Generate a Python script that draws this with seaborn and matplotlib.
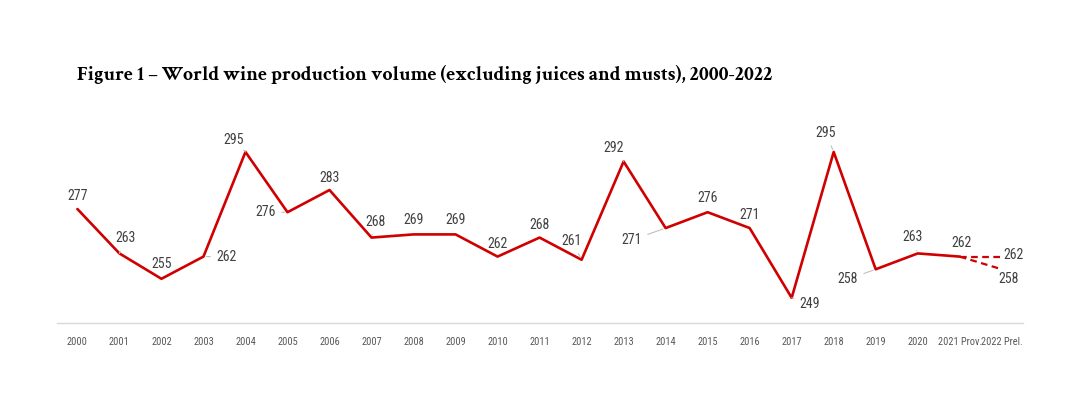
import matplotlib
matplotlib.use('Agg')
import matplotlib.pyplot as plt
import seaborn as sns
import pandas as pd

# ── Veriler ──
YILLAR = [str(y) for y in range(2000, 2021)] + ['2021 Prov.', '2022 Prel.']
URETIM = [277, 263, 255, 262, 295, 276, 283, 268, 269, 269, 262,
          268, 261, 292, 271, 276, 271, 249, 295, 258, 263, 262]
TAHMIN_2022 = [262, 258]   # üst ve alt tahmin

BASLIK = 'Figure 1 – World wine production volume (excluding juices and musts), 2000-2022'

# etiket kaydırmaları (piksel, sağa / aşağı) ve çizgi bağlantısı
ETIKET_KONUM = [
    (0, -13, False), (6, -15, True), (0, -15, False), (23, 0, True),
    (-12, -12, True), (-22, 0, True), (0, -12, False), (4, -16, True),
    (0, -14, False), (0, -14, False), (0, -13, False), (0, -13, False),
    (-10, -19, True), (-10, -13, True), (-34, 12, True), (0, -14, False),
    (0, -13, False), (18, 6, True), (-8, -19, True), (-28, 10, True),
    (-5, -16, True), (2, -14, False),
]
TAHMIN_KONUM = [(12, -2, False), (7, 10, False)]

KIRMIZI = '#D00000'
ETIKET_RENK = '#404040'
YAZI = ['Roboto Condensed', 'DejaVu Sans']
BASLIK_YAZI = ['Crimson Text', 'DejaVu Serif']

sns.set_theme(style='white')
plt.rcParams['font.family'] = YAZI

df = pd.DataFrame({'x': range(len(URETIM)), 'deger': URETIM})
son = len(URETIM) - 1

fig = plt.figure(figsize=(10.8, 3.98), dpi=100)
ax = fig.add_axes([0.053, 0.188, 0.894, 0.47])

sns.lineplot(data=df, x='x', y='deger', color=KIRMIZI, linewidth=1.9, ax=ax)
for t in TAHMIN_2022:
    ax.plot([son, son + 1], [URETIM[son], t], color=KIRMIZI,
            linewidth=1.6, linestyle=(0, (3, 2)))


def etiket(x, y, metin, konum):
    dx, dy, cizgi = konum
    kw = dict(textcoords='offset pixels', xytext=(dx, -dy),
              ha='center', va='center', fontsize=10, color=ETIKET_RENK,
              family=YAZI)
    if cizgi:
        kw['arrowprops'] = dict(arrowstyle='-', color='#BFBFBF', lw=0.8,
                                shrinkA=2, shrinkB=2)
    ax.annotate(metin, xy=(x, y), **kw)


for i, v in enumerate(URETIM):
    etiket(i, v, str(v), ETIKET_KONUM[i])
for t, k in zip(TAHMIN_2022, TAHMIN_KONUM):
    etiket(son + 1, t, str(t), k)

ax.set_xlim(-0.48, len(YILLAR) - 0.5)
ax.set_ylim(241, 300)
ax.set_xticks(range(len(YILLAR)))
ax.set_xticklabels(YILLAR, fontsize=7.5, color='#595959')
ax.set_yticks([])
ax.set_xlabel('')
ax.set_ylabel('')
ax.tick_params(axis='x', length=0, pad=10)
for k in ['top', 'right', 'left']:
    ax.spines[k].set_visible(False)
ax.spines['bottom'].set_color('#D9D9D9')
ax.spines['bottom'].set_linewidth(1)

fig.text(0.071, 0.812, BASLIK, fontsize=14.2, fontweight='bold',
         family=BASLIK_YAZI, color='#000000', va='center', ha='left')

fig.savefig('out.png', dpi=100, facecolor='white')
